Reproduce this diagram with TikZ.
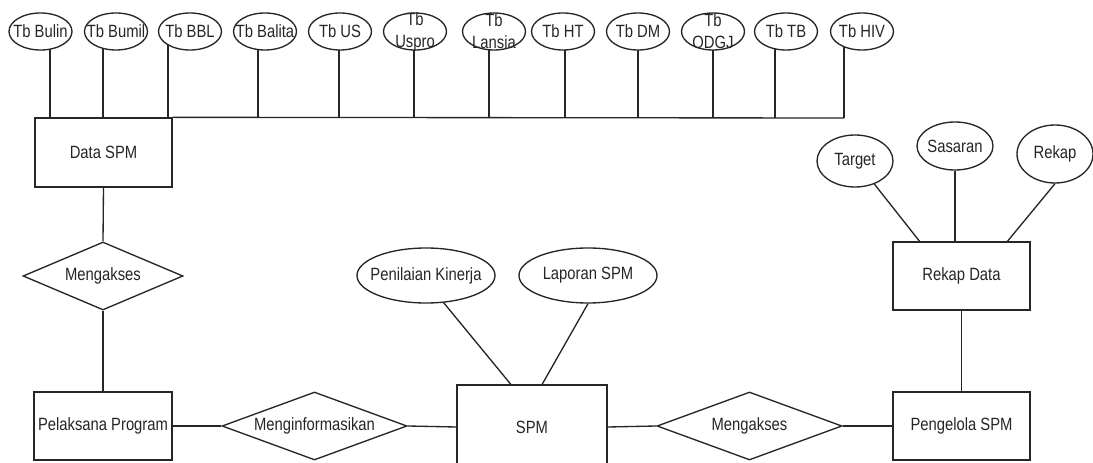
\documentclass[tikz,border=0pt]{standalone}
\usepackage{fontspec}
\setmainfont{Liberation Sans}
\usepackage{graphicx}
\usetikzlibrary{shapes.geometric,calc,backgrounds}
\newcommand\vt[1]{\scalebox{1}[1.2]{#1}}
\tikzset{
  ln/.style={draw=black!85, line width=1pt},
  lbl/.style={font=\fontsize{11.1}{16.5}\selectfont, text=black!85, inner sep=0pt, align=center},
  ent/.style={rectangle, ln, fill=white, inner sep=0pt},
  rel/.style={diamond, ln, fill=white, inner sep=0pt},
  att/.style={ellipse, ln, fill=white, inner sep=0pt},
  topatt/.style={att, minimum width=47.25pt, minimum height=27.75pt},
}
\begin{document}
\begin{tikzpicture}[x=0.75pt,y=-0.75pt]
\useasboundingbox (0,0) rectangle (1093,463);

% top attributes
\node[topatt, label={[lbl]center:\vt{Tb Bulin}}]  (e1)  at (40.5,31.5) {};
\node[topatt, label={[lbl]center:\vt{Tb Bumil}}]  (e2)  at (116,31.5) {};
\node[topatt, label={[lbl]center:\vt{Tb BBL}}]    (e3)  at (190,31.5) {};
\node[topatt, label={[lbl]center:\vt{Tb Balita}}] (e4)  at (265,31.5) {};
\node[topatt, label={[lbl]center:\vt{Tb US}}]     (e5)  at (340,31.5) {};
\node[topatt, label={[lbl]center:\vt{Tb}\\\vt{Uspro}}]  (e6)  at (415,31.5) {};
\node[topatt, label={[lbl]center:\vt{Tb}\\\vt{Lansia}}] (e7)  at (494,31.5) {};
\node[topatt, label={[lbl]center:\vt{Tb HT}}]     (e8)  at (563,31.5) {};
\node[topatt, label={[lbl]center:\vt{Tb DM}}]     (e9)  at (638,31.5) {};
\node[topatt, label={[lbl]center:\vt{Tb}\\\vt{ODGJ}}]   (e10) at (713,31.5) {};
\node[topatt, label={[lbl]center:\vt{Tb TB}}]     (e11) at (786,31.5) {};
\node[topatt, label={[lbl]center:\vt{Tb HIV}}]    (e12) at (862,31.5) {};

% entities
\node[ent, minimum width=102.75pt, minimum height=51.75pt, label={[lbl]center:\vt{Data SPM}}] (dspm) at (103.5,152.5) {};
\node[ent, minimum width=103.5pt, minimum height=51pt, label={[lbl]center:\vt{Pelaksana Program}}] (pel) at (103,426) {};
\node[ent, minimum width=112.5pt, minimum height=63pt, label={[lbl]center:\vt{SPM}}] (spm) at (532,427) {};
\node[ent, minimum width=102.75pt, minimum height=51pt, label={[lbl]center:\vt{Pengelola SPM}}] (peng) at (961.5,426) {};
\node[ent, minimum width=102.75pt, minimum height=51pt, label={[lbl]center:\vt{Rekap Data}}] (rd) at (961.5,276) {};

% relations
\node[rel, minimum width=120pt, minimum height=51pt, label={[lbl]center:\vt{Mengakses}}] (mg1) at (103,276) {};
\node[rel, minimum width=138.75pt, minimum height=51pt, label={[lbl]center:\vt{Menginformasikan}}] (mi) at (314.5,426) {};
\node[rel, minimum width=138.75pt, minimum height=51pt, label={[lbl]center:\vt{Mengakses}}] (mg2) at (749.5,426) {};

% other attributes
\node[att, minimum width=103.5pt, minimum height=41.25pt, label={[lbl]center:\vt{Penilaian Kinerja}}] (pen) at (426,275.5) {};
\node[att, minimum width=103.5pt, minimum height=41.25pt, label={[lbl]center:\vt{Laporan SPM}}] (lap) at (588,275.5) {};
\node[att, minimum width=57pt, minimum height=39pt, label={[lbl]center:\vt{Target}}] (tgt) at (855,161) {};
\node[att, minimum width=57pt, minimum height=36pt, label={[lbl]center:\vt{Sasaran}}] (sas) at (955,146) {};
\node[att, minimum width=57pt, minimum height=43.5pt, label={[lbl]center:\vt{Rekap}}] (rek) at (1055,154) {};

\begin{scope}[on background layer]
  \fill[white] (0,0) rectangle (1093,463);
  \foreach \i/\x in {1/50,2/103,3/168,4/258,5/339,6/414,7/489,8/565,9/638,10/713,11/775,12/844}{
    \coordinate (b\i) at (\x,118);
    \draw[ln] (b\i) -- (b\i |- e\i.center);
  }
  \draw[ln] (dspm.north east) -- (b12);
  \draw[ln] (dspm.south) -- (mg1.north);
  \draw[ln] (mg1.south) -- (pel.north);
  \draw[ln] (pel.east) -- (mi.west);
  \draw[ln] (mi.east) -- (spm.west);
  \draw[ln] (spm.east) -- (mg2.west);
  \draw[ln] (mg2.east) -- (peng.west);
  \draw[ln] (peng.north) -- (rd.south);
  \draw[ln] (pen.-57) -- ($(spm.north west)!0.36!(spm.north east)$);
  \draw[ln] (lap.south) -- ($(spm.north west)!0.567!(spm.north east)$);
  \draw[ln] (tgt.-50) -- ($(rd.north west)!0.197!(rd.north east)$);
  \draw[ln] (sas.south) -- (sas.south |- rd.north);
  \draw[ln] (rek.south) -- ($(rd.north west)!0.832!(rd.north east)$);
\end{scope}
\end{tikzpicture}
\end{document}
